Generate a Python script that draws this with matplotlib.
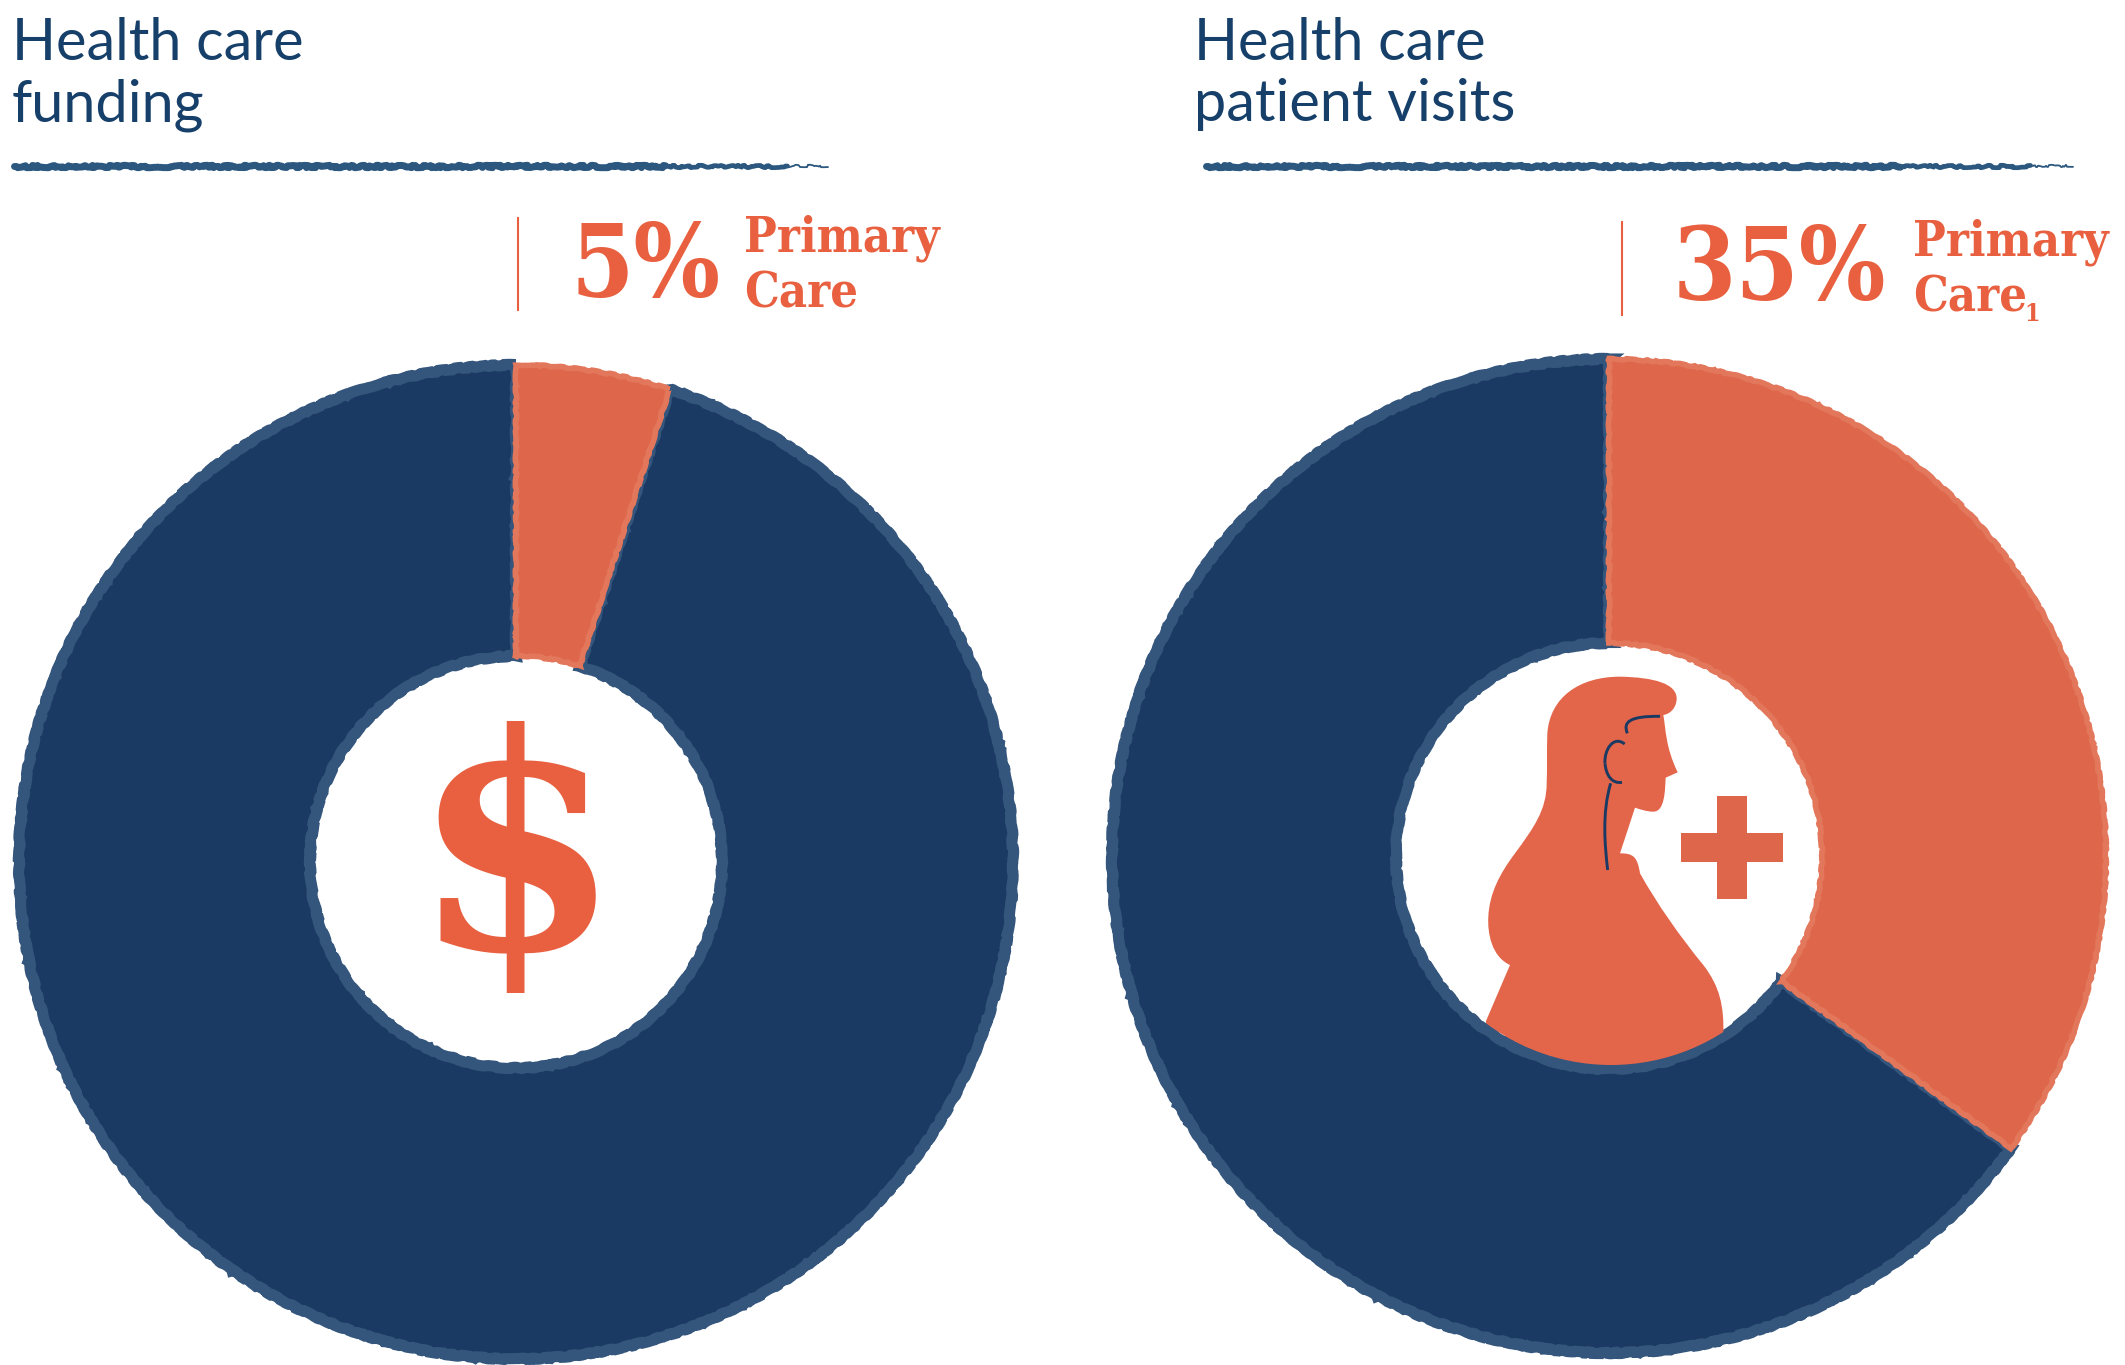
import matplotlib
matplotlib.use("Agg")
import matplotlib.pyplot as plt
from matplotlib.patches import Circle, PathPatch, Rectangle
from matplotlib.path import Path

W, H = 2125, 1365

NAVY = "#1b3a63"
NAVY_EDGE = "#34557c"
ORANGE = "#de674b"
ORANGE_EDGE = "#e3775b"
TEXT_ORANGE = "#e8603f"
ICON_ORANGE = "#e3654a"
TITLE_BLUE = "#16406a"
RULE_BLUE = "#2c5880"

funding_values = [5, 95]
visits_values = [35, 65]
funding_label = "5%"
visits_label = "35%"
funding_title = ["Health care", "funding"]
visits_title = ["Health care", "patient visits"]
primary_lines = ["Primary", "Care"]

TITLE_FONT = "Lato"
SLAB = "DejaVu Serif"

fig = plt.figure(figsize=(W / 100, H / 100), dpi=100, facecolor="white")
ax = fig.add_axes([0, 0, 1, 1])


def fy(y):
    # picture coords run downward, axes run upward
    return H - y


def donut(values, cx, cy, r_out, r_in):
    wedges, _ = ax.pie(values, colors=[ORANGE, NAVY], startangle=90, counterclock=False,
                       center=(cx, fy(cy)), radius=r_out,
                       wedgeprops=dict(width=r_out - r_in, linewidth=8))
    wedges[0].set_edgecolor(ORANGE_EDGE)
    wedges[0].set_linewidth(4)
    wedges[1].set_edgecolor(NAVY_EDGE)
    wedges[1].set_zorder(2)
    wedges[0].set_zorder(3)
    for w in wedges:
        w.set_sketch_params(scale=0.7, length=40, randomness=15)


def rule(x0, x1, y):
    for x_end, lw in [(x0 + (x1 - x0) * 0.8, 5), (x0 + (x1 - x0) * 0.95, 3.4), (x1, 1.3)]:
        line, = ax.plot([x0, x_end], [fy(y), fy(y)], color=RULE_BLUE, lw=lw, solid_capstyle="round", zorder=2)
        line.set_sketch_params(scale=1.2, length=30, randomness=30)


def title(lines, x):
    ax.text(x, fy(60), lines[0], fontsize=41.5, family=TITLE_FONT, color=TITLE_BLUE, va="baseline")
    ax.text(x, fy(121), lines[1], fontsize=41.5, family=TITLE_FONT, color=TITLE_BLUE, va="baseline")


def callout(label, line_x, line_y0, line_y1, label_x, label_base, text_x, base0, base1):
    ax.plot([line_x, line_x], [fy(line_y0), fy(line_y1)], color=TEXT_ORANGE, lw=1.5, zorder=2)
    slab = dict(family=SLAB, stretch="condensed", fontweight="bold", color=TEXT_ORANGE, va="baseline")
    ax.text(label_x, fy(label_base), label, fontsize=73, **slab)
    ax.text(text_x, fy(base0), primary_lines[0], fontsize=35, **slab)
    ax.text(text_x, fy(base1), primary_lines[1], fontsize=35, **slab)


donut(funding_values, 516, 862, 497, 206)
donut(visits_values, 1609, 856, 497, 213)

title(funding_title, 12)
title(visits_title, 1194)
rule(14, 828, 166)
rule(1206, 2073, 166)

callout(funding_label, 518, 218, 310, 570, 297, 744, 252, 307)
callout(visits_label, 1622, 222, 315, 1673, 300, 1913, 256, 312)
ax.text(2024, fy(321), "1", fontsize=18, family=SLAB, stretch="condensed", fontweight="bold",
        color=TEXT_ORANGE, va="baseline")

# dollar sign in the left hole
ax.text(516, fy(866), "$", fontsize=216, family=SLAB, fontweight="bold", color=TEXT_ORANGE,
        ha="center", va="center", zorder=5)


# patient icon in the right hole, outline traced in the 3x crop coords
def ic(x, y):
    return (1400 + x / 3, fy(640 + y / 3))


body = [
    (Path.MOVETO, (258, 1143)), (Path.LINETO, (330, 975)),
    (Path.CURVE4, (275, 950)), (Path.CURVE4, (262, 880)), (Path.CURVE4, (265, 830)),
    (Path.CURVE4, (268, 760)), (Path.CURVE4, (300, 700)), (Path.CURVE4, (345, 640)),
    (Path.CURVE4, (400, 565)), (Path.CURVE4, (440, 510)), (Path.CURVE4, (440, 430)),
    (Path.CURVE4, (442, 380)), (Path.CURVE4, (440, 340)), (Path.CURVE4, (442, 280)),
    (Path.CURVE4, (450, 170)), (Path.CURVE4, (540, 110)), (Path.CURVE4, (660, 110)),
    (Path.CURVE4, (760, 112)), (Path.CURVE4, (832, 130)), (Path.CURVE4, (830, 178)),
    (Path.CURVE4, (828, 205)), (Path.CURVE4, (810, 222)), (Path.CURVE4, (790, 225)),
    (Path.CURVE4, (798, 270)), (Path.CURVE4, (796, 320)), (Path.CURVE4, (833, 397)),
    (Path.LINETO, (797, 413)),
    (Path.CURVE4, (795, 450)), (Path.CURVE4, (795, 515)), (Path.CURVE4, (760, 515)),
    (Path.CURVE4, (740, 515)), (Path.CURVE4, (720, 508)), (Path.CURVE4, (705, 503)),
    (Path.LINETO, (660, 640)),
    (Path.CURVE4, (700, 640)), (Path.CURVE4, (712, 650)), (Path.CURVE4, (720, 700)),
    (Path.CURVE4, (770, 790)), (Path.CURVE4, (840, 890)), (Path.CURVE4, (910, 975)),
    (Path.CURVE4, (960, 1040)), (Path.CURVE4, (972, 1100)), (Path.CURVE4, (970, 1180)),
    (Path.LINETO, (970, 1330)), (Path.LINETO, (258, 1330)), (Path.CLOSEPOLY, (258, 1143)),
]
patch = PathPatch(Path([ic(*p) for _, p in body], [c for c, _ in body]),
                  facecolor=ICON_ORANGE, edgecolor="none", zorder=5)
ax.add_patch(patch)
hole = Circle((1611, fy(857)), 208, transform=ax.transData)
patch.set_clip_path(hole)

strokes = [
    [(682, 280), (668, 245), (690, 228), (780, 229)],
    [(674, 312), (640, 285), (612, 330), (615, 370)],
    [(615, 370), (618, 405), (635, 432), (666, 427)],
    [(632, 430), (605, 520), (615, 620), (623, 690)],
]
for s in strokes:
    codes = [Path.MOVETO, Path.CURVE4, Path.CURVE4, Path.CURVE4]
    ax.add_patch(PathPatch(Path([ic(*p) for p in s], codes), facecolor="none",
                           edgecolor=NAVY, lw=2.1, zorder=6))

# plus sign
x0, y0 = ic(952, 777)
x1, y1 = ic(1040, 468)
ax.add_patch(Rectangle((x0, y0), x1 - x0, y1 - y0, facecolor=ORANGE, edgecolor="none", zorder=5))
x0, y0 = ic(842, 667)
x1, y1 = ic(1150, 578)
ax.add_patch(Rectangle((x0, y0), x1 - x0, y1 - y0, facecolor=ORANGE, edgecolor="none", zorder=5))

ax.set_xlim(0, W)
ax.set_ylim(0, H)
ax.set_aspect("equal")
ax.axis("off")

fig.savefig("out.png", dpi=100, facecolor="white")
